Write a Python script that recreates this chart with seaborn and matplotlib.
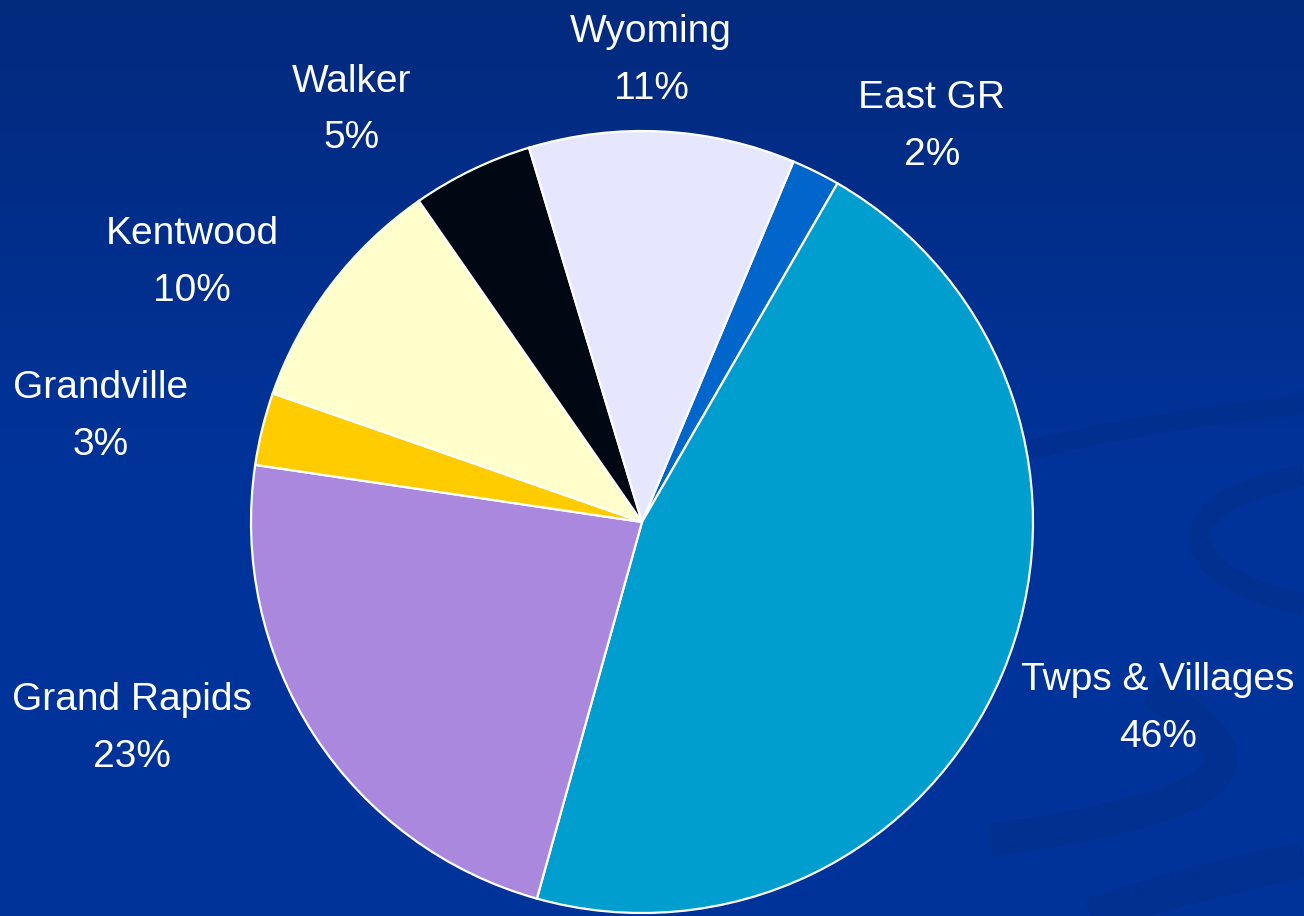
import numpy as np
import matplotlib
matplotlib.use("Agg")
import matplotlib.pyplot as plt
import seaborn as sns

# slice data, clockwise from the top (Excel-style)
regions = ["East GR", "Twps & Villages", "Grand Rapids", "Grandville",
           "Kentwood", "Walker", "Wyoming"]
shares = [2, 46, 23, 3, 10, 5, 11]
slice_colors = ["#0066cc", "#009ecf", "#aa88de", "#ffcc00",
                "#ffffcc", "#000814", "#e6e6ff"]

# label centres in pixels (x, y from top)
label_px = [(932, 127), (1158, 709), (132, 729), (101, 417),
            (192, 263), (352, 110), (651, 61)]

sns.set_theme(style="white")
plt.rcParams['font.family'] = ['Liberation Sans', 'DejaVu Sans']

W, H, DPI = 1304, 916, 100
fig = plt.figure(figsize=(W / DPI, H / DPI), dpi=DPI)

# background gradient
bg = fig.add_axes([0, 0, 1, 1])
bg.set_axis_off()
t = np.clip(np.linspace(0, 1, 400) / 0.5, 0, 1)
top = np.array([3, 42, 125]) / 255
bot = np.array([0, 51, 153]) / 255
grad = top[None, :] * (1 - t)[:, None] + bot[None, :] * t[:, None]
grad = np.repeat(grad[:, None, :], 2, axis=1)
bg.imshow(grad, aspect="auto", extent=[0, W, H, 0])


# faint swirl decoration (quadratic bezier bands)
def bez(p0, p1, p2, n=80):
    s = np.linspace(0, 1, n)[:, None]
    pts = (1 - s) ** 2 * np.array(p0) + 2 * (1 - s) * s * np.array(p1) + s ** 2 * np.array(p2)
    return pts[:, 0], pts[:, 1]


swirl = "#002e8a"
bands = [
    ((1030, 450), (1150, 420), (1304, 405), 14),
    ((1304, 475), (1190, 500), (1200, 545), 16),
    ((1200, 545), (1215, 585), (1304, 605), 16),
    ((1150, 690), (1240, 740), (1215, 775), 24),
    ((1215, 775), (1180, 815), (990, 840), 24),
    ((1090, 916), (1200, 880), (1304, 860), 26),
]
for p0, p1, p2, lw in bands:
    x, y = bez(p0, p1, p2)
    bg.plot(x, y, color=swirl, lw=lw, alpha=0.6, solid_capstyle="butt")
bg.set_xlim(0, W)
bg.set_ylim(H, 0)

# pie axes: centre (642, 522) px, radius 391 px
R, CX, CY = 391, 642, 522
ax = fig.add_axes([0, 0, 1, 1])
ax.set_axis_off()
ax.patch.set_alpha(0)

wedges, _ = ax.pie(shares, colors=slice_colors, startangle=67.2,
                   counterclock=False, radius=1,
                   wedgeprops=dict(edgecolor="white", linewidth=1.6))
ax.set_xlim(-CX / R, (W - CX) / R)
ax.set_ylim(-(H - CY) / R, CY / R)
ax.set_aspect("equal")

for name, val, (px, py) in zip(regions, shares, label_px):
    ax.text((px - CX) / R, (CY - py) / R, f"{name}\n{val}%",
            ha="center", va="center", color="white", fontsize=28,
            linespacing=1.75)

fig.savefig("out.png", dpi=DPI)
